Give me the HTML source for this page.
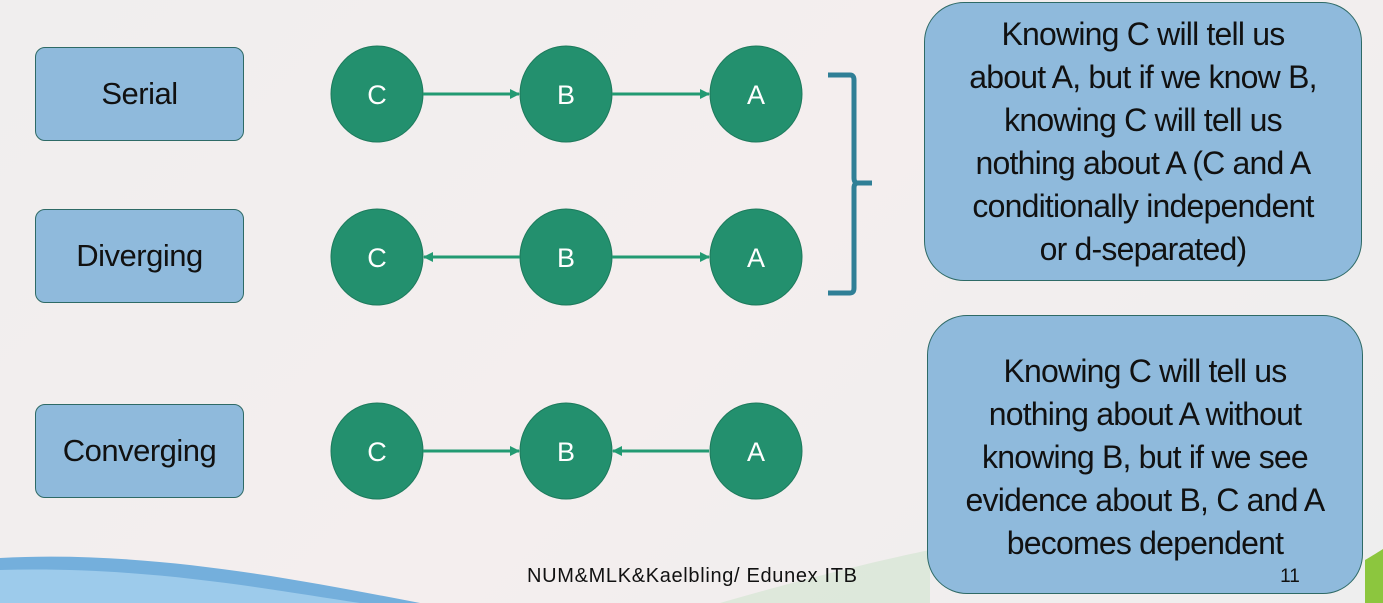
<!DOCTYPE html>
<html><head><style>
body{margin:0;width:1383px;height:603px;overflow:hidden;background:linear-gradient(135deg,#f0eeee,#f4eeee 50%,#eeeeee);font-family:"Liberation Sans",sans-serif;position:relative}
.lb{position:absolute;left:35px;width:207px;height:92px;background:#8fbadc;border:1.5px solid #2e6a66;border-radius:10px;display:flex;align-items:center;justify-content:center;font-size:31px;color:#111;letter-spacing:-0.5px}
.rb{position:absolute;background:#8fbadc;border:1.5px solid #2e6a66;border-radius:40px;display:flex;align-items:center;justify-content:center;text-align:center;font-size:32px;line-height:43px;color:#111;letter-spacing:-0.8px;white-space:nowrap}
</style></head><body>
<svg width="1383" height="603" style="position:absolute;left:0;top:0">
<defs><marker id="ar" markerWidth="10" markerHeight="10" refX="9" refY="5" orient="auto" markerUnits="userSpaceOnUse"><path d="M0,0L10,5L0,10z" fill="#229a72"/></marker></defs>
<path d="M0,558 C150,550 300,580 420,603 L0,603z" fill="#4a9ad6" opacity="0.75"/>
<path d="M0,570 C150,566 270,590 360,603 L0,603z" fill="#a8d2ef" opacity="0.8"/>
<path d="M720,603 C800,580 880,560 930,550 L930,603z" fill="#c9e2c8" opacity="0.5"/>
<path d="M1365,560 C1372,556 1380,551 1383,549 L1383,603 L1365,603z" fill="#8cc63e"/>
<g fill="#23906e" stroke="#1d7a5c" stroke-width="1">
<ellipse cx="377" cy="94" rx="46" ry="48"/><ellipse cx="566" cy="94" rx="46" ry="48"/><ellipse cx="756" cy="94" rx="46" ry="48"/>
<ellipse cx="377" cy="257" rx="46" ry="48"/><ellipse cx="566" cy="257" rx="46" ry="48"/><ellipse cx="756" cy="257" rx="46" ry="48"/>
<ellipse cx="377" cy="451" rx="46" ry="48"/><ellipse cx="566" cy="451" rx="46" ry="48"/><ellipse cx="756" cy="451" rx="46" ry="48"/>
</g>
<g stroke="#229a72" stroke-width="3" marker-end="url(#ar)">
<line x1="423" y1="94" x2="519" y2="94"/><line x1="612" y1="94" x2="709" y2="94"/>
<line x1="520" y1="257" x2="424" y2="257"/><line x1="612" y1="257" x2="709" y2="257"/>
<line x1="423" y1="451" x2="519" y2="451"/><line x1="709" y1="451" x2="613" y2="451"/>
</g>
<g fill="#fff" font-size="27" text-anchor="middle" font-family="Liberation Sans,sans-serif">
<text x="377" y="104">C</text><text x="566" y="104">B</text><text x="756" y="104">A</text>
<text x="377" y="267">C</text><text x="566" y="267">B</text><text x="756" y="267">A</text>
<text x="377" y="461">C</text><text x="566" y="461">B</text><text x="756" y="461">A</text>
</g>
<path d="M828,75 H850 Q854,75 854,80 V178 Q854,183 858,183 H872 M858,183 Q854,183 854,188 V288 Q854,293 850,293 H828" fill="none" stroke="#2f7f96" stroke-width="5"/>
<text x="692" y="582" font-size="20" text-anchor="middle" fill="#111" textLength="330">NUM&amp;MLK&amp;Kaelbling/ Edunex ITB</text>
</svg>
<div class="lb" style="top:47px">Serial</div>
<div class="lb" style="top:209px">Diverging</div>
<div class="lb" style="top:404px">Converging</div>
<div class="rb" style="left:924px;top:2px;width:436px;height:277px">Knowing C will tell us<br>about A, but if we know B,<br>knowing C will tell us<br>nothing about A (C and A<br>conditionally independent<br>or d-separated)</div>
<div class="rb" style="left:927px;top:315px;width:436px;height:279px;padding-top:5px;box-sizing:border-box">Knowing C will tell us<br>nothing about A without<br>knowing B, but if we see<br>evidence about B, C and A<br>becomes dependent</div>
<svg width="1383" height="603" style="position:absolute;left:0;top:0;pointer-events:none"><text x="1290" y="582" font-size="19" text-anchor="middle" fill="#111" font-family="Liberation Sans,sans-serif">11</text></svg>
</body></html>
